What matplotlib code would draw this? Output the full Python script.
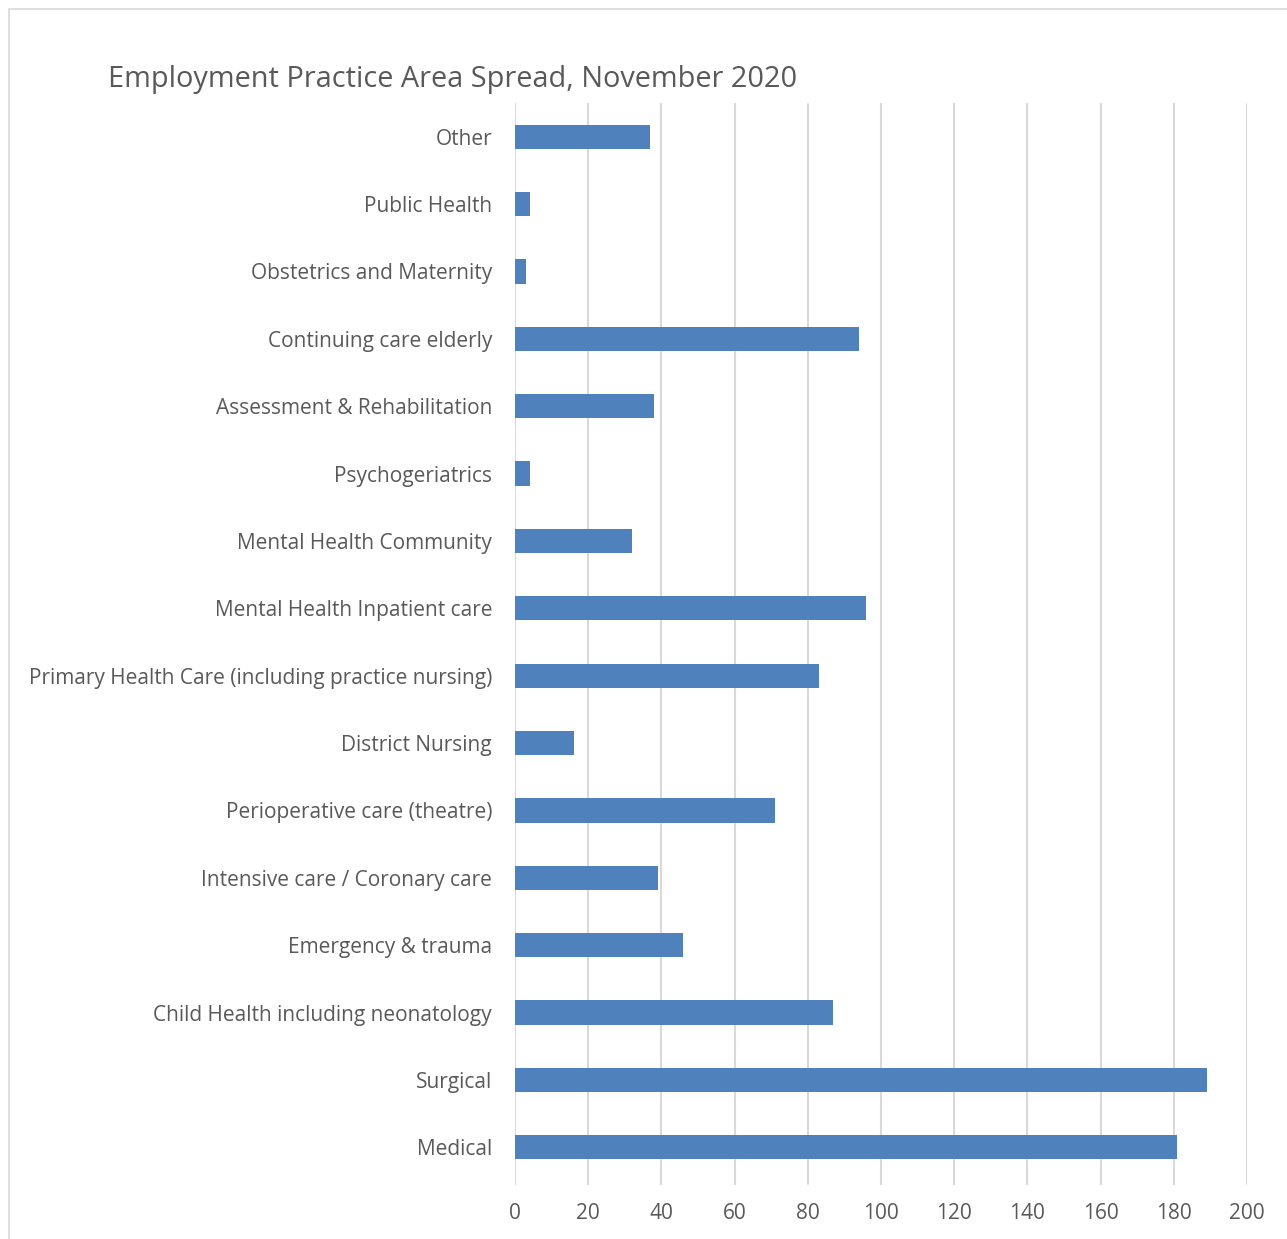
import matplotlib.pyplot as plt
from matplotlib.patches import Rectangle

# 数据（从上到下）
categories = ['Other', 'Public Health', 'Obstetrics and Maternity', 'Continuing care elderly',
              'Assessment & Rehabilitation', 'Psychogeriatrics', 'Mental Health Community',
              'Mental Health Inpatient care', 'Primary Health Care (including practice nursing)',
              'District Nursing', 'Perioperative care (theatre)', 'Intensive care / Coronary care',
              'Emergency & trauma', 'Child Health including neonatology', 'Surgical', 'Medical']
values = [37, 4, 3, 94, 38, 4, 32, 96, 83, 16, 71, 39, 46, 87, 189, 181]
xticks = [0, 20, 40, 60, 80, 100, 120, 140, 160, 180, 200]

plt.rcParams['font.family'] = ['Open Sans', 'DejaVu Sans']
text_color = '#595959'

fig = plt.figure(figsize=(12.87, 12.39), dpi=100)
ax = fig.add_axes([515 / 1287, 1 - 1185 / 1239, (1247 - 515) / 1287, (1185 - 103) / 1239])

# 外框
fig.patches.append(Rectangle((9 / 1287, -0.1), 1.2, 1 - 9 / 1239 + 0.1, transform=fig.transFigure,
                             fill=False, edgecolor='#D9D9D9', linewidth=1.2))

pos = list(range(len(categories)))[::-1]
ax.barh(pos, values, height=0.36, color='#4F81BD', zorder=3)

ax.set_xlim(0, 200)
ax.set_ylim(-0.56, 15.5)
ax.set_xticks(xticks)
ax.set_yticks(pos)
ax.set_yticklabels(categories)
ax.tick_params(axis='both', length=0, colors=text_color, labelsize=15)
ax.tick_params(axis='y', pad=16.5)
ax.tick_params(axis='x', pad=13)
ax.grid(axis='x', color='#D9D9D9', linewidth=1.5, zorder=0)
for s in ax.spines.values():
    s.set_visible(False)

fig.text(108 / 1287, 1 - 79 / 1239, 'Employment Practice Area Spread, November 2020',
         fontsize=20.8, color=text_color, va='center', ha='left')

fig.savefig('out.png', dpi=100)
